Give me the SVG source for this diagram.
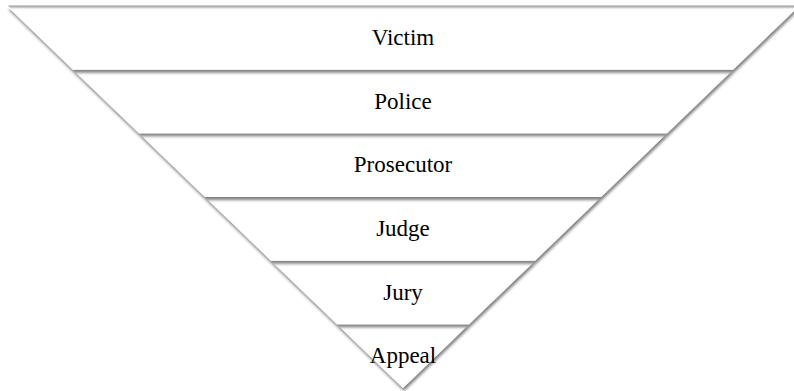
<svg xmlns="http://www.w3.org/2000/svg" width="794" height="391" viewBox="0 0 794 391">
  <defs>
    <filter id="sh" x="-10%" y="-20%" width="120%" height="150%">
      <feGaussianBlur in="SourceAlpha" stdDeviation="1.7"/>
      <feOffset dx="1" dy="2.6" result="b"/>
      <feComponentTransfer><feFuncA type="linear" slope="0.5"/></feComponentTransfer>
      <feMerge><feMergeNode/><feMergeNode in="SourceGraphic"/></feMerge>
    </filter>
    <linearGradient id="fade" x1="0" y1="0" x2="0" y2="1">
      <stop offset="0" stop-color="#9a9a9a"/>
      <stop offset="0.35" stop-color="#b8b8b8"/>
      <stop offset="1" stop-color="#ffffff" stop-opacity="0"/>
    </linearGradient>
  </defs>
  <style>
    .band { fill: #ffffff; filter: url(#sh); }
    .lbl { font-family: "Liberation Serif", "Times New Roman", serif; font-size: 23px; fill: #000000; text-anchor: middle; }
  </style>
  <rect width="794" height="391" fill="#ffffff"/>
  <g id="connectors"></g>
  <g id="appeal">
    <polygon class="band" points="337,324.33 469,324.33 403,388"/>
    <text class="lbl" x="403" y="363">Appeal</text>
  </g>
  <g id="jury">
    <polygon class="band" points="271,260.67 535,260.67 469,324.33 337,324.33"/>
    <text class="lbl" x="403" y="300">Jury</text>
  </g>
  <g id="judge">
    <polygon class="band" points="205,197 601,197 535,260.67 271,260.67"/>
    <text class="lbl" x="403" y="236">Judge</text>
  </g>
  <g id="prosecutor">
    <polygon class="band" points="139,133.33 667,133.33 601,197 205,197"/>
    <text class="lbl" x="403" y="172">Prosecutor</text>
  </g>
  <g id="police">
    <polygon class="band" points="73,69.67 733,69.67 667,133.33 139,133.33"/>
    <text class="lbl" x="403" y="109">Police</text>
  </g>
  <g id="victim">
    <polygon class="band" points="7,6 799,6 733,69.67 73,69.67"/>
    <polygon points="8,5.5 798,5.5 794,10 12,10" fill="url(#fade)"/>
    <text class="lbl" x="403" y="45">Victim</text>
  </g>
</svg>
